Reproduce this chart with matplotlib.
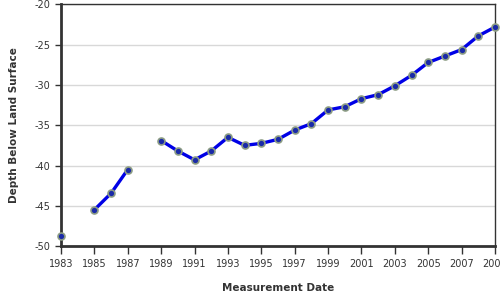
import numpy as np
import matplotlib
matplotlib.use("Agg")
import matplotlib.pyplot as plt

plt.rcParams["axes.unicode_minus"] = False

years = [1983, 1984, 1985, 1986, 1987, 1988, 1989, 1990, 1991, 1992, 1993, 1994,
         1995, 1996, 1997, 1998, 1999, 2000, 2001, 2002, 2003, 2004, 2005, 2006,
         2007, 2008, 2009]
depth = [-48.7, np.nan, -45.5, -43.45, -40.5, np.nan, -36.9, -38.2, -39.3, -38.2,
         -36.5, -37.5, -37.25, -36.75, -35.6, -34.8, -33.1, -32.7, -31.7, -31.2,
         -30.1, -28.8, -27.2, -26.4, -25.6, -23.9, -22.8]
xticks = list(range(1983, 2010, 2))
yticks = [-50, -45, -40, -35, -30, -25, -20]

fig = plt.figure(figsize=(5, 3), dpi=100)
ax = fig.add_axes([0.122, 0.18, 0.868, 0.805])

ax.plot(years, depth, color="#0000e6", lw=2.4, marker="o", ms=5,
        mfc="#1a2aa8", mec="#8c9c84", mew=1.2, zorder=3, clip_on=False)

ax.set_xlim(1983, 2009)
ax.set_ylim(-50, -20)
ax.set_xticks(xticks)
ax.set_yticks(yticks)
ax.grid(axis="y", color="#d8d8d8", lw=1)
ax.set_axisbelow(True)

for s in ["left", "bottom"]:
    ax.spines[s].set_linewidth(2)
    ax.spines[s].set_color("#333333")
for s in ["top", "right"]:
    ax.spines[s].set_linewidth(1)
    ax.spines[s].set_color("#333333")

ax.tick_params(axis="both", labelsize=7, colors="#333333", length=6, width=1)
ax.tick_params(axis="y", length=4)

ax.set_xlabel("Measurement Date", fontsize=7.5, fontweight="bold", color="#333333", labelpad=10)
ax.set_ylabel("Depth Below Land Surface", fontsize=7.5, fontweight="bold", color="#333333", labelpad=11)

fig.savefig("out.png", dpi=100)
